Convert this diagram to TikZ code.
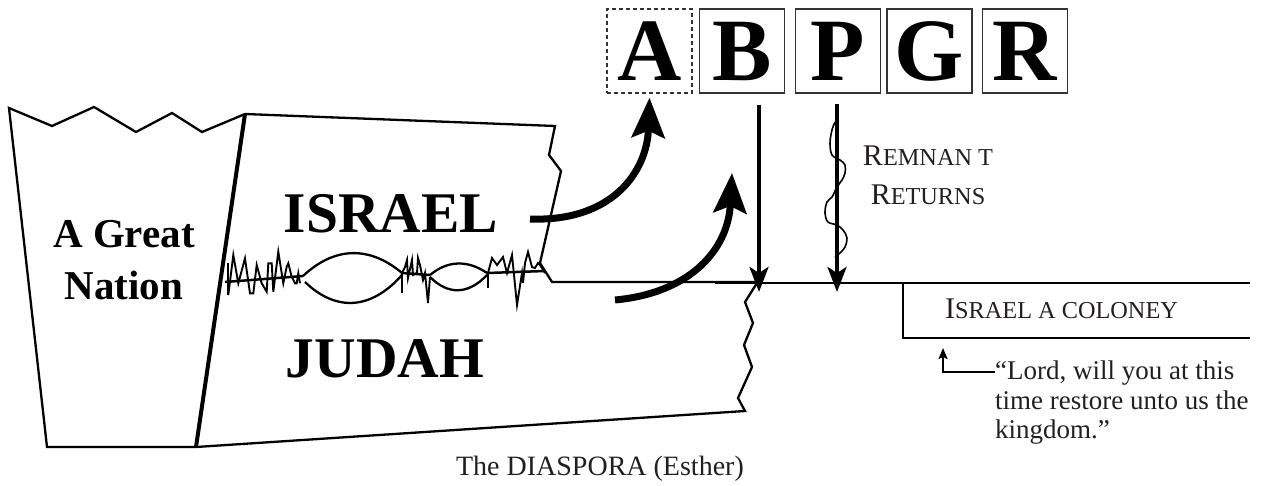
\documentclass[tikz,border=0pt]{standalone}
\usepackage{fontspec}
\setmainfont{Liberation Serif}
\usetikzlibrary{arrows.meta,calc}
\definecolor{ink}{RGB}{35,31,32}
% fake small capitals: a full capital followed by reduced capitals
\newcommand\fakesc[2]{{\fontsize{30}{39}\selectfont #1}{\fontsize{24.3}{39}\selectfont #2}}

\begin{document}
\begin{tikzpicture}[x=1pt,y=-1pt,
  outline/.style={line width=2.3pt, line join=miter},
  letterbox/.style={draw=black!80, line width=1.3pt, minimum width=85pt,
    minimum height=84pt, inner sep=0pt,
    font=\fontsize{89}{89}\selectfont\bfseries},
  bigarrow/.style={line width=7pt, -{Stealth[length=40pt,width=33pt,inset=7pt]}},
  vertarrow/.style={line width=4pt, -{Stealth[length=25pt,width=19pt,inset=6pt]}},
  smallarrow/.style={line width=2pt, -{Stealth[length=11pt,width=9pt,inset=2pt]}},
  strife/.style={line width=1.9pt, line join=miter},
  label/.style={inner sep=0pt, text=ink}]

\useasboundingbox (0,0) rectangle (1275,485);

% --- the great nation: a torn-topped block
\draw[outline] (245,114) -- (202,132) -- (172,113) -- (136,132) -- (94,107)
  -- (52,126) -- (9,108) -- (47,447) -- (196,447);

% --- the divided kingdom: Israel above, Judah below
\draw[outline] (245,114) -- (555,126) -- (549,155) -- (561,171) -- (540,263)
  -- (552,282) -- (760,282);
\draw[outline] (757,283) -- (745,302) -- (753,323) -- (744,345) -- (752,367)
  -- (738,398) -- (745,411) -- (196,447);
\draw[line width=4pt] (245,114) -- (196,447);

% --- the strife between the two kingdoms
\draw[line width=2.5pt] (225,282) -- (303,276);
\draw[line width=2.5pt] (402,273) -- (430,275);
\draw[line width=2.5pt] (487,273) -- (545,271);
\draw[strife] (228,263) -- (228,295);
\draw[strife] (228.3,295) -- (233.3,255) -- (238.3,283.3) -- (245,258.3) -- (250,293.3)
  -- (253.3,293.3) -- (256.7,265) -- (261.7,283.3) -- (266.7,291.7) -- (268.3,263.3)
  -- (271.7,263.3) -- (273.3,291.7) -- (278.3,251.7) -- (283.3,283.3) -- (286.7,266.7)
  -- (288.3,263.3) -- (291.7,276.7) -- (295,283.3) -- (296.7,283.3) -- (298.3,273.3)
  -- (300,283.3);
\draw[strife] (402,273) -- (402,293);
\draw[strife] (402,273) -- (405,267) -- (407,260) -- (408,278) -- (412,260) -- (413,275)
  -- (417,273) -- (418,258) -- (420,265) -- (423,280) -- (425,273) -- (428,303)
  -- (430,277);
\draw[strife] (488,273) -- (488,288);
\draw[strife] (488,273) -- (492,258) -- (497,265) -- (503,257) -- (507,273) -- (512,255)
  -- (517,305) -- (522,273) -- (523,283) -- (525,263) -- (528,252) -- (532,267)
  -- (535,268) -- (538,263) -- (540,265) -- (545,273);
\draw[line width=2.3pt] (303,276) .. controls (335,246) and (370,246) .. (402,273);
\draw[line width=2.3pt] (305,282) .. controls (335,311) and (370,311) .. (402,275);
\draw[line width=2.3pt] (430,275) .. controls (448,260) and (468,260) .. (487,273);
\draw[line width=2.3pt] (430,277) .. controls (448,295) and (468,295) .. (487,275);

% --- labels of the kingdoms
\node[inner sep=0pt, align=center, anchor=north, font=\fontsize{41}{52}\selectfont\bfseries]
  (nation) at (124,220) {A Great\\Nation};
\node[inner sep=0pt, anchor=base, font=\fontsize{57.5}{57.5}\selectfont\bfseries]
  (israel) at (391,232) {ISRAEL};
\node[inner sep=0pt, anchor=base, font=\fontsize{57.5}{57.5}\selectfont\bfseries]
  (judah) at (385,377) {JUDAH};

% --- the letter boxes
\node[letterbox, dash pattern=on 4pt off 3pt] (bA) at (649.5,51) {A};
\node[letterbox] (bB) at (742,51) {B};
\node[letterbox] (bP) at (838,51) {P};
\node[letterbox] (bG) at (929.5,51) {G};
\node[letterbox] (bR) at (1025,51) {R};

% --- the timeline and the colony bracket
\draw[line width=2.5pt] (715,283) -- (1250,283);
\draw[line width=2.2pt] (903,283) -- (903,338) -- (1250,338);

% --- movements
\coordinate (isrOut) at (530,219);
\coordinate (judOut) at (615,300);
\coordinate (judTip) at (732,173);
\draw[bigarrow] (isrOut) .. controls (612,222) and (647,172) .. ($(bA.south)+(0,4)$);
\draw[bigarrow] (judOut) .. controls (690,293) and (728,250) .. (judTip);

\coordinate (bLand) at (759,292);
\coordinate (pLand) at (837,292);
\draw[vertarrow] ($(bB.south)+(17,11)$) -- (bLand);
\draw[vertarrow] ($(bP.south)+(-1,10)$) -- (pLand);
\draw[line width=1.6pt] plot[smooth, tension=0.6] coordinates {
  (835,122) (832,130) (830,143) (832,155) (840,160) (845,165) (845,173) (842,180)
  (837,187) (832,197) (827,202) (825,213) (828,222) (837,225) (843,230) (847,238)
  (845,247) (840,253) (835,257)};

% --- texts
\node[label, align=center, anchor=north, font=\fontsize{30}{39}\selectfont]
  (remnant) at (928,146) {\fakesc{R}{EMNAN T}\\\fakesc{R}{ETURNS}};
\node[label, anchor=base west] (colony) at (945,318) {\fakesc{I}{SRAEL A COLONEY}};
\node[label, align=left, anchor=north west, font=\fontsize{27}{29.5}\selectfont]
  (quote) at (995,361) {“Lord, will you at this\\time restore unto us the\\kingdom.”};
\node[label, anchor=base, font=\fontsize{28}{28}\selectfont]
  (diaspora) at (600,475) {The DIASPORA (Esther)};

\coordinate (qStart) at (995,372);
\coordinate (colTip) at (943,348);
\draw[smallarrow] (qStart) -| (colTip);

\end{tikzpicture}
\end{document}
